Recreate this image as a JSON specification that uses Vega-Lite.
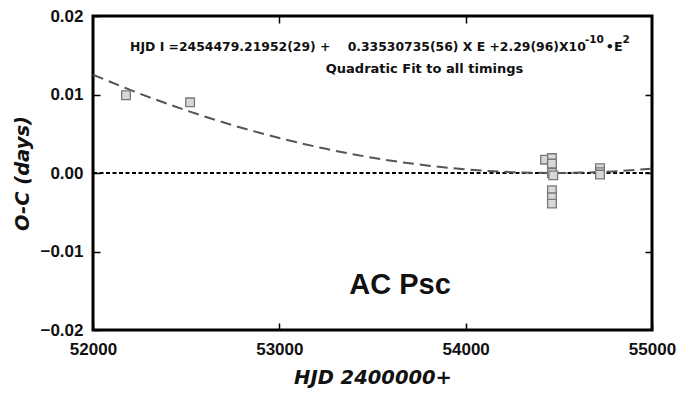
{
  "$schema": "https://vega.github.io/schema/vega-lite/v6.json",
  "autosize": {"type": "none"},
  "width": 559,
  "height": 314,
  "padding": {"left": 93, "top": 16, "right": 32, "bottom": 63},
  "background": "white",
  "config": {
    "view": {"stroke": "black", "strokeWidth": 3},
    "font": "Liberation Sans",
    "axis": {
      "grid": false,
      "domain": false,
      "labelFlush": false,
      "tickColor": "black",
      "tickWidth": 1.5,
      "labelFont": "Liberation Sans",
      "labelFontSize": 17,
      "labelFontWeight": "bold",
      "labelColor": "#111",
      "titleFont": "DejaVu Sans",
      "titleFontSize": 19.5,
      "titleFontWeight": "bold",
      "titleFontStyle": "italic",
      "titleColor": "#111"
    }
  },
  "datasets": {
    "timings": [
      {"hjd": 52177, "oc": 0.0099},
      {"hjd": 52521, "oc": 0.0090},
      {"hjd": 54426, "oc": 0.0017},
      {"hjd": 54463, "oc": 0.0019},
      {"hjd": 54463, "oc": 0.0012},
      {"hjd": 54463, "oc": 0.0},
      {"hjd": 54470, "oc": -0.0003},
      {"hjd": 54463, "oc": -0.0022},
      {"hjd": 54463, "oc": -0.0031},
      {"hjd": 54463, "oc": -0.0039},
      {"hjd": 54721, "oc": 0.0006},
      {"hjd": 54721, "oc": 0.0001},
      {"hjd": 54721, "oc": -0.0002}
    ],
    "fit": [
      {"hjd": 52000, "oc": 0.01252},
      {"hjd": 52250, "oc": 0.01012},
      {"hjd": 52500, "oc": 0.00798},
      {"hjd": 52750, "oc": 0.00609},
      {"hjd": 53000, "oc": 0.00446},
      {"hjd": 53250, "oc": 0.00308},
      {"hjd": 53500, "oc": 0.00195},
      {"hjd": 53750, "oc": 0.00108},
      {"hjd": 54000, "oc": 0.00047},
      {"hjd": 54250, "oc": 0.00011},
      {"hjd": 54479, "oc": 0.0},
      {"hjd": 54750, "oc": 0.00015},
      {"hjd": 55000, "oc": 0.00055}
    ],
    "zero": [{"hjd": 52000, "oc": 0}, {"hjd": 55000, "oc": 0}],
    "equation": [
      {"hjd": 52199, "oc": 0.01548, "text": "HJD I =2454479.21952(29) + \u00a0\u00a0\u00a00.33530735(56) X E +2.29(96)X10", "size": 12.4},
      {"hjd": 54640, "oc": 0.0166, "text": "-10", "size": 10.5},
      {"hjd": 54752, "oc": 0.01548, "text": "•E", "size": 12.7},
      {"hjd": 54842, "oc": 0.0166, "text": "2", "size": 10.5}
    ],
    "notes": [
      {"hjd": 53779, "oc": 0.01268, "text": "Quadratic Fit to all timings", "kind": "caption"},
      {"hjd": 53648, "oc": -0.01433, "text": "AC Psc", "kind": "name"}
    ]
  },
  "resolve": {"axis": {"x": "independent", "y": "independent"}},
  "layer": [
    {
      "data": {"name": "zero"},
      "mark": {"type": "line", "color": "black", "strokeWidth": 1.8, "strokeDash": [4, 2.5]},
      "encoding": {
        "x": {"field": "hjd", "type": "quantitative", "scale": {"domain": [52000, 55000], "nice": false},
          "axis": {"orient": "bottom", "values": [52000, 53000, 54000, 55000], "format": "d", "tickSize": -7, "labelPadding": 18, "title": "HJD 2400000+", "titlePadding": 11}},
        "y": {"field": "oc", "type": "quantitative", "scale": {"domain": [-0.02, 0.02], "nice": false},
          "axis": {"orient": "left", "values": [-0.02, -0.01, 0, 0.01, 0.02], "format": ".2f", "tickSize": -7, "labelPadding": 17, "title": "O-C (days)", "titlePadding": 7}}
      }
    },
    {
      "data": {"name": "fit"},
      "mark": {"type": "line", "color": "#555", "strokeWidth": 2, "strokeDash": [11, 6], "interpolate": "monotone"},
      "encoding": {
        "x": {"field": "hjd", "type": "quantitative",
          "axis": {"orient": "top", "values": [53000, 54000], "labels": false, "tickSize": -7, "title": null}},
        "y": {"field": "oc", "type": "quantitative",
          "axis": {"orient": "right", "values": [-0.01, 0, 0.01], "labels": false, "tickSize": -7, "title": null}}
      }
    },
    {
      "data": {"name": "timings"},
      "mark": {"type": "point", "shape": "square", "size": 75, "filled": true, "fill": "#d8d8d8", "stroke": "#777", "strokeWidth": 1.3, "opacity": 1},
      "encoding": {
        "x": {"field": "hjd", "type": "quantitative", "axis": null},
        "y": {"field": "oc", "type": "quantitative", "axis": null}
      }
    },
    {
      "data": {"name": "equation"},
      "mark": {"type": "text", "font": "DejaVu Sans", "fontWeight": "bold", "color": "#111", "align": "left", "baseline": "alphabetic"},
      "encoding": {
        "x": {"field": "hjd", "type": "quantitative", "axis": null},
        "y": {"field": "oc", "type": "quantitative", "axis": null},
        "size": {"field": "size", "type": "quantitative", "scale": null, "legend": null},
        "text": {"field": "text"}
      }
    },
    {
      "data": {"name": "notes"},
      "transform": [{"filter": "datum.kind === 'caption'"}],
      "mark": {"type": "text", "font": "DejaVu Sans", "fontSize": 13, "fontWeight": "bold", "color": "#111", "align": "center", "baseline": "alphabetic"},
      "encoding": {
        "x": {"field": "hjd", "type": "quantitative", "axis": null},
        "y": {"field": "oc", "type": "quantitative", "axis": null},
        "text": {"field": "text"}
      }
    },
    {
      "data": {"name": "notes"},
      "transform": [{"filter": "datum.kind === 'name'"}],
      "mark": {"type": "text", "fontSize": 29, "fontWeight": "bold", "color": "#111", "align": "center", "baseline": "middle"},
      "encoding": {
        "x": {"field": "hjd", "type": "quantitative", "axis": null},
        "y": {"field": "oc", "type": "quantitative", "axis": null},
        "text": {"field": "text"}
      }
    }
  ]
}
